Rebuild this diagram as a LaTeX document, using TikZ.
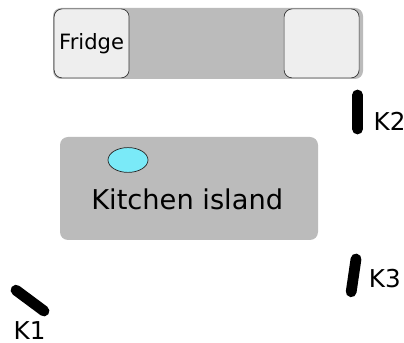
\documentclass[tikz,border=0pt]{standalone}
\usepackage{fontspec}
\setmainfont{DejaVu Sans}
\usetikzlibrary{shapes.geometric}
\definecolor{benchgray}{HTML}{BBBBBB}
\definecolor{unitgray}{HTML}{EEEEEE}
\definecolor{sinkcyan}{HTML}{7AEAF8}
\tikzset{
	bench/.style={fill=benchgray, rounded corners=0.2cm},
	unit/.style={draw=black!80, fill=unitgray, rounded corners=0.2cm, line width=0.5pt, inner sep=0pt, minimum width=1.875cm, minimum height=1.725cm},
	camera/.style={line width=0.27cm, line cap=round},
	tag/.style={inner sep=0pt, font=\fontsize{17.5}{17.5}\selectfont}
}
\begin{document}
\begin{tikzpicture}
				\useasboundingbox (0, 0) rectangle (10.1, 8.575);
				
				\fill[bench] (1.325, 6.6) rectangle (9.075, 8.375);
				\node[unit, font=\fontsize{15}{15}\selectfont] (fridge) at (2.29, 7.49) {Fridge};
				\node[unit] (cabinet) at (8.04, 7.49) {};
				
				\fill[bench] (1.5, 2.575) rectangle (7.95, 5.15);
				\node[draw=black!85, fill=sinkcyan, ellipse, line width=0.5pt, minimum width=1cm, minimum height=0.62cm, inner sep=0pt] (sink) at (3.2, 4.575) {};
				\node[inner sep=0pt, font=\fontsize{19.4}{19.4}\selectfont] (island) at (4.68, 3.59) {Kitchen island};
				
				\draw[camera] (0.4, 1.32) -- (1.1, 0.8);
				\node[tag] (k1) at (0.74, 0.32) {K1};
				
				\draw[camera] (8.94, 6.2) -- (8.94, 5.35);
				\node[tag] (k2) at (9.74, 5.55) {K2};
				
				\draw[camera] (8.9, 2.1) -- (8.78, 1.28);
				\node[tag] (k3) at (9.62, 1.6) {K3};
			\end{tikzpicture}
\end{document}
